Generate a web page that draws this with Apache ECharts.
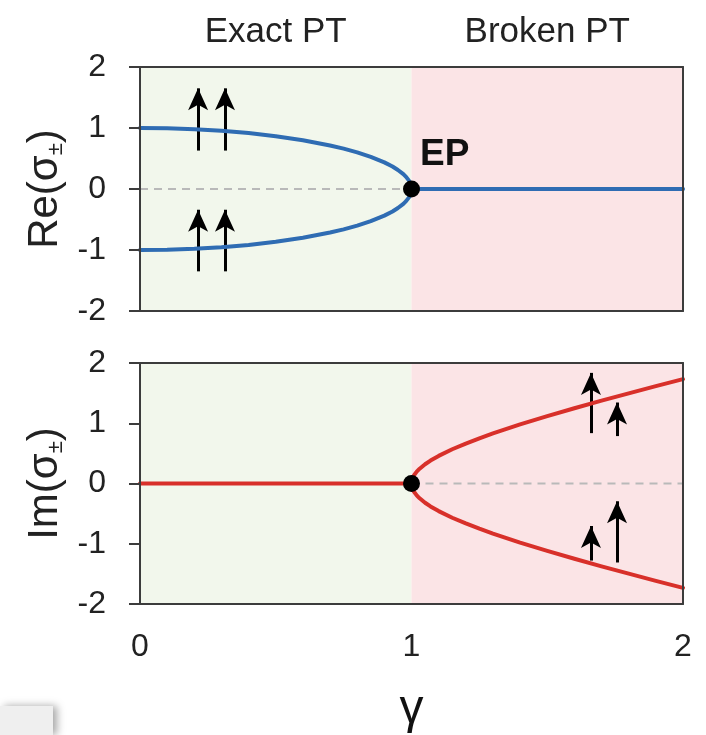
<!DOCTYPE html>
<html>
<head>
<meta charset="utf-8">
<script src="https://cdn.jsdelivr.net/npm/echarts@6/dist/echarts.min.js"></script>
<style>
  html, body { margin: 0; padding: 0; background: #ffffff; }
  #chart { width: 706px; height: 735px; }
</style>
</head>
<body>
<div id="chart"></div>
<script>
// Eigenvalues of a PT-symmetric dimer versus gain/loss parameter γ.
// Exact PT phase (γ < 1): real parts split, imaginary parts vanish.
// Broken PT phase (γ > 1): real parts coalesce, imaginary parts split.

// Exact-phase branch of Re(σ±)
const gammaExact = [0, 0.1, 0.2, 0.3, 0.4, 0.5, 0.6, 0.7, 0.75, 0.8, 0.85, 0.9, 0.93, 0.95, 0.97, 0.98, 0.99, 0.995, 0.999, 1];
const reUpper    = [1.00, 0.995, 0.98, 0.954, 0.917, 0.866, 0.80, 0.714, 0.661, 0.60, 0.527, 0.436, 0.368, 0.312, 0.243, 0.199, 0.141, 0.100, 0.045, 0];
const reLower    = [-1.00, -0.995, -0.98, -0.954, -0.917, -0.866, -0.80, -0.714, -0.661, -0.60, -0.527, -0.436, -0.368, -0.312, -0.243, -0.199, -0.141, -0.100, -0.045, 0];

// Broken-phase branch of Im(σ±)
const gammaBroken = [1, 1.001, 1.005, 1.01, 1.02, 1.03, 1.05, 1.07, 1.1, 1.15, 1.2, 1.25, 1.3, 1.4, 1.5, 1.6, 1.7, 1.8, 1.9, 2];
const imUpper     = [0, 0.045, 0.100, 0.142, 0.201, 0.246, 0.32, 0.381, 0.458, 0.568, 0.663, 0.75, 0.831, 0.98, 1.118, 1.249, 1.375, 1.497, 1.616, 1.732];
const imLower     = [0, -0.045, -0.100, -0.142, -0.201, -0.246, -0.32, -0.381, -0.458, -0.568, -0.663, -0.75, -0.831, -0.98, -1.118, -1.249, -1.375, -1.497, -1.616, -1.732];

// Coalesced (flat) segments
const reFlatGamma = [1, 2];
const reFlat      = [0, 0];
const imFlatGamma = [0, 1];
const imFlat      = [0, 0];

// Exceptional point
const epPoint = [1, 0];

// Phase regions
const phaseNames  = ['Exact PT', 'Broken PT'];
const phaseBounds = [[0, 1], [1, 2]];

// Axis ticks
const gammaTicks = [0, 1, 2];
const sigmaTicks = [-2, -1, 0, 1, 2];

// Spin arrows: [γ, tail, tip]
const reArrows = [
  [0.214, 0.63, 1.65], [0.313, 0.63, 1.65],
  [0.214, -1.35, -0.34], [0.313, -1.35, -0.34]
];
const imArrows = [
  [1.661, 0.836, 1.836], [1.757, 0.787, 1.344],
  [1.661, -1.279, -0.705], [1.757, -1.311, -0.295]
];

const FONT = '"Liberation Sans", Arial, sans-serif';
const BLUE = '#2f6cb3';
const RED = '#d8302a';
const FRAME = '#3c3c3c';
const BG = ['#f2f7ec', '#fbe4e6'];

const zip = (xs, ys) => xs.map((x, i) => [x, ys[i]]);

function arrowLines(list) {
  return list.map(a => [{ coord: [a[0], a[1]] }, { coord: [a[0], a[2]] }]);
}

function regionAreas(withLabels) {
  return phaseBounds.map((b, i) => [
    {
      xAxis: b[0],
      itemStyle: { color: BG[i] },
      label: withLabels ? {
        show: true, position: 'top', distance: 17, formatter: phaseNames[i],
        fontFamily: FONT, fontSize: 35, color: '#222'
      } : { show: false }
    },
    { xAxis: b[1] }
  ]);
}

const xBase = (grid, showLabels) => ({
  type: 'value', gridIndex: grid, min: gammaTicks[0], max: gammaTicks[gammaTicks.length - 1], interval: 1,
  axisLine: { show: true, onZero: false, lineStyle: { color: FRAME, width: 2 } },
  axisTick: { show: false },
  splitLine: { show: false },
  axisLabel: { show: showLabels, fontFamily: FONT, fontSize: 32, color: '#222', margin: 27 },
  z: 10
});
const xTop = grid => ({
  type: 'value', gridIndex: grid, position: 'top', min: 0, max: 2,
  axisLine: { show: true, onZero: false, lineStyle: { color: FRAME, width: 2 } },
  axisTick: { show: false }, axisLabel: { show: false }, splitLine: { show: false }, z: 10
});
const yLeft = (grid, nameHead) => ({
  type: 'value', gridIndex: grid, min: sigmaTicks[0], max: sigmaTicks[sigmaTicks.length - 1], interval: 1,
  axisLine: { show: true, onZero: false, lineStyle: { color: FRAME, width: 2 } },
  axisTick: { show: true, inside: false, length: 11, lineStyle: { color: FRAME, width: 2 } },
  splitLine: { show: false },
  axisLabel: { fontFamily: FONT, fontSize: 32, color: '#222', margin: 34 },
  name: '{a|' + nameHead + '(σ}{s|±}{a|)}',
  nameLocation: 'middle', nameRotate: 90, nameGap: 72,
  nameTextStyle: {
    rich: {
      a: { fontFamily: FONT, fontSize: 42, color: '#222' },
      s: { fontFamily: FONT, fontSize: 22, color: '#222', verticalAlign: 'bottom', padding: [18, 0, 0, 0] }
    }
  },
  z: 10
});
const yRight = grid => ({
  type: 'value', gridIndex: grid, position: 'right', min: -2, max: 2,
  axisLine: { show: true, onZero: false, lineStyle: { color: FRAME, width: 2 } },
  axisTick: { show: false }, axisLabel: { show: false }, splitLine: { show: false }, z: 10
});

const curve = (xi, yi, data, color) => ({
  type: 'line', xAxisIndex: xi, yAxisIndex: yi, data, showSymbol: false, symbol: 'none',
  smooth: false,
  lineStyle: { color, width: 4, join: 'round', cap: 'round' }, z: 5, silent: true
});
const dashed = (xi, yi, data) => ({
  type: 'line', xAxisIndex: xi, yAxisIndex: yi, data, showSymbol: false, symbol: 'none',
  lineStyle: { color: '#b9b9b9', width: 2, type: [8, 6] }, z: 3, silent: true
});
const arrows = (xi, yi, list, areas) => ({
  type: 'line', xAxisIndex: xi, yAxisIndex: yi, data: [], silent: true,
  markArea: { silent: true, data: areas },
  markLine: {
    silent: true, animation: false,
    symbol: ['none', 'arrow'], symbolSize: [15, 22],
    lineStyle: { color: '#000', width: 3, type: 'solid', opacity: 1 },
    label: { show: false },
    data: arrowLines(list)
  },
  z: 6
});
const ep = (xi, yi, withLabel) => ({
  type: 'scatter', xAxisIndex: xi, yAxisIndex: yi, data: [epPoint],
  symbolSize: 17, itemStyle: { color: '#000', opacity: 1 }, z: 8, silent: true,
  label: withLabel ? {
    show: true, formatter: 'EP', position: 'right', distance: 0, offset: [0, -34],
    fontFamily: FONT, fontWeight: 'bold', fontSize: 37, color: '#111'
  } : { show: false }
});

const chart = echarts.init(document.getElementById('chart'), null, { renderer: 'canvas' });
chart.setOption({
  animation: false,
  backgroundColor: '#ffffff',
  grid: [
    { left: 140, width: 543, top: 67, height: 244 },
    { left: 140, width: 543, top: 363, height: 243 }
  ],
  xAxis: [xBase(0, false), xTop(0), {
    ...xBase(1, true),
    name: 'γ', nameLocation: 'middle', nameGap: 82,
    nameTextStyle: { fontFamily: FONT, fontSize: 48, color: '#111' }
  }, xTop(1)],
  yAxis: [yLeft(0, 'Re'), yRight(0), yLeft(1, 'Im'), yRight(1)],
  series: [
    arrows(0, 0, reArrows, regionAreas(true)),
    dashed(0, 0, zip(imFlatGamma, imFlat)),
    curve(0, 0, zip(gammaExact, reUpper), BLUE),
    curve(0, 0, zip(gammaExact, reLower), BLUE),
    curve(0, 0, zip(reFlatGamma, reFlat), BLUE),
    ep(0, 0, true),

    arrows(2, 2, imArrows, regionAreas(false)),
    dashed(2, 2, zip(reFlatGamma, reFlat)),
    curve(2, 2, zip(gammaBroken, imUpper), RED),
    curve(2, 2, zip(gammaBroken, imLower), RED),
    curve(2, 2, zip(imFlatGamma, imFlat), RED),
    ep(2, 2, false)
  ],
  graphic: [{
    type: 'rect', left: 0, top: 706, shape: { width: 53, height: 29 },
    style: { fill: '#efefef', shadowBlur: 8, shadowOffsetX: 4, shadowColor: 'rgba(0,0,0,0.35)' },
    silent: true
  }]
});
</script>
</body>
</html>
